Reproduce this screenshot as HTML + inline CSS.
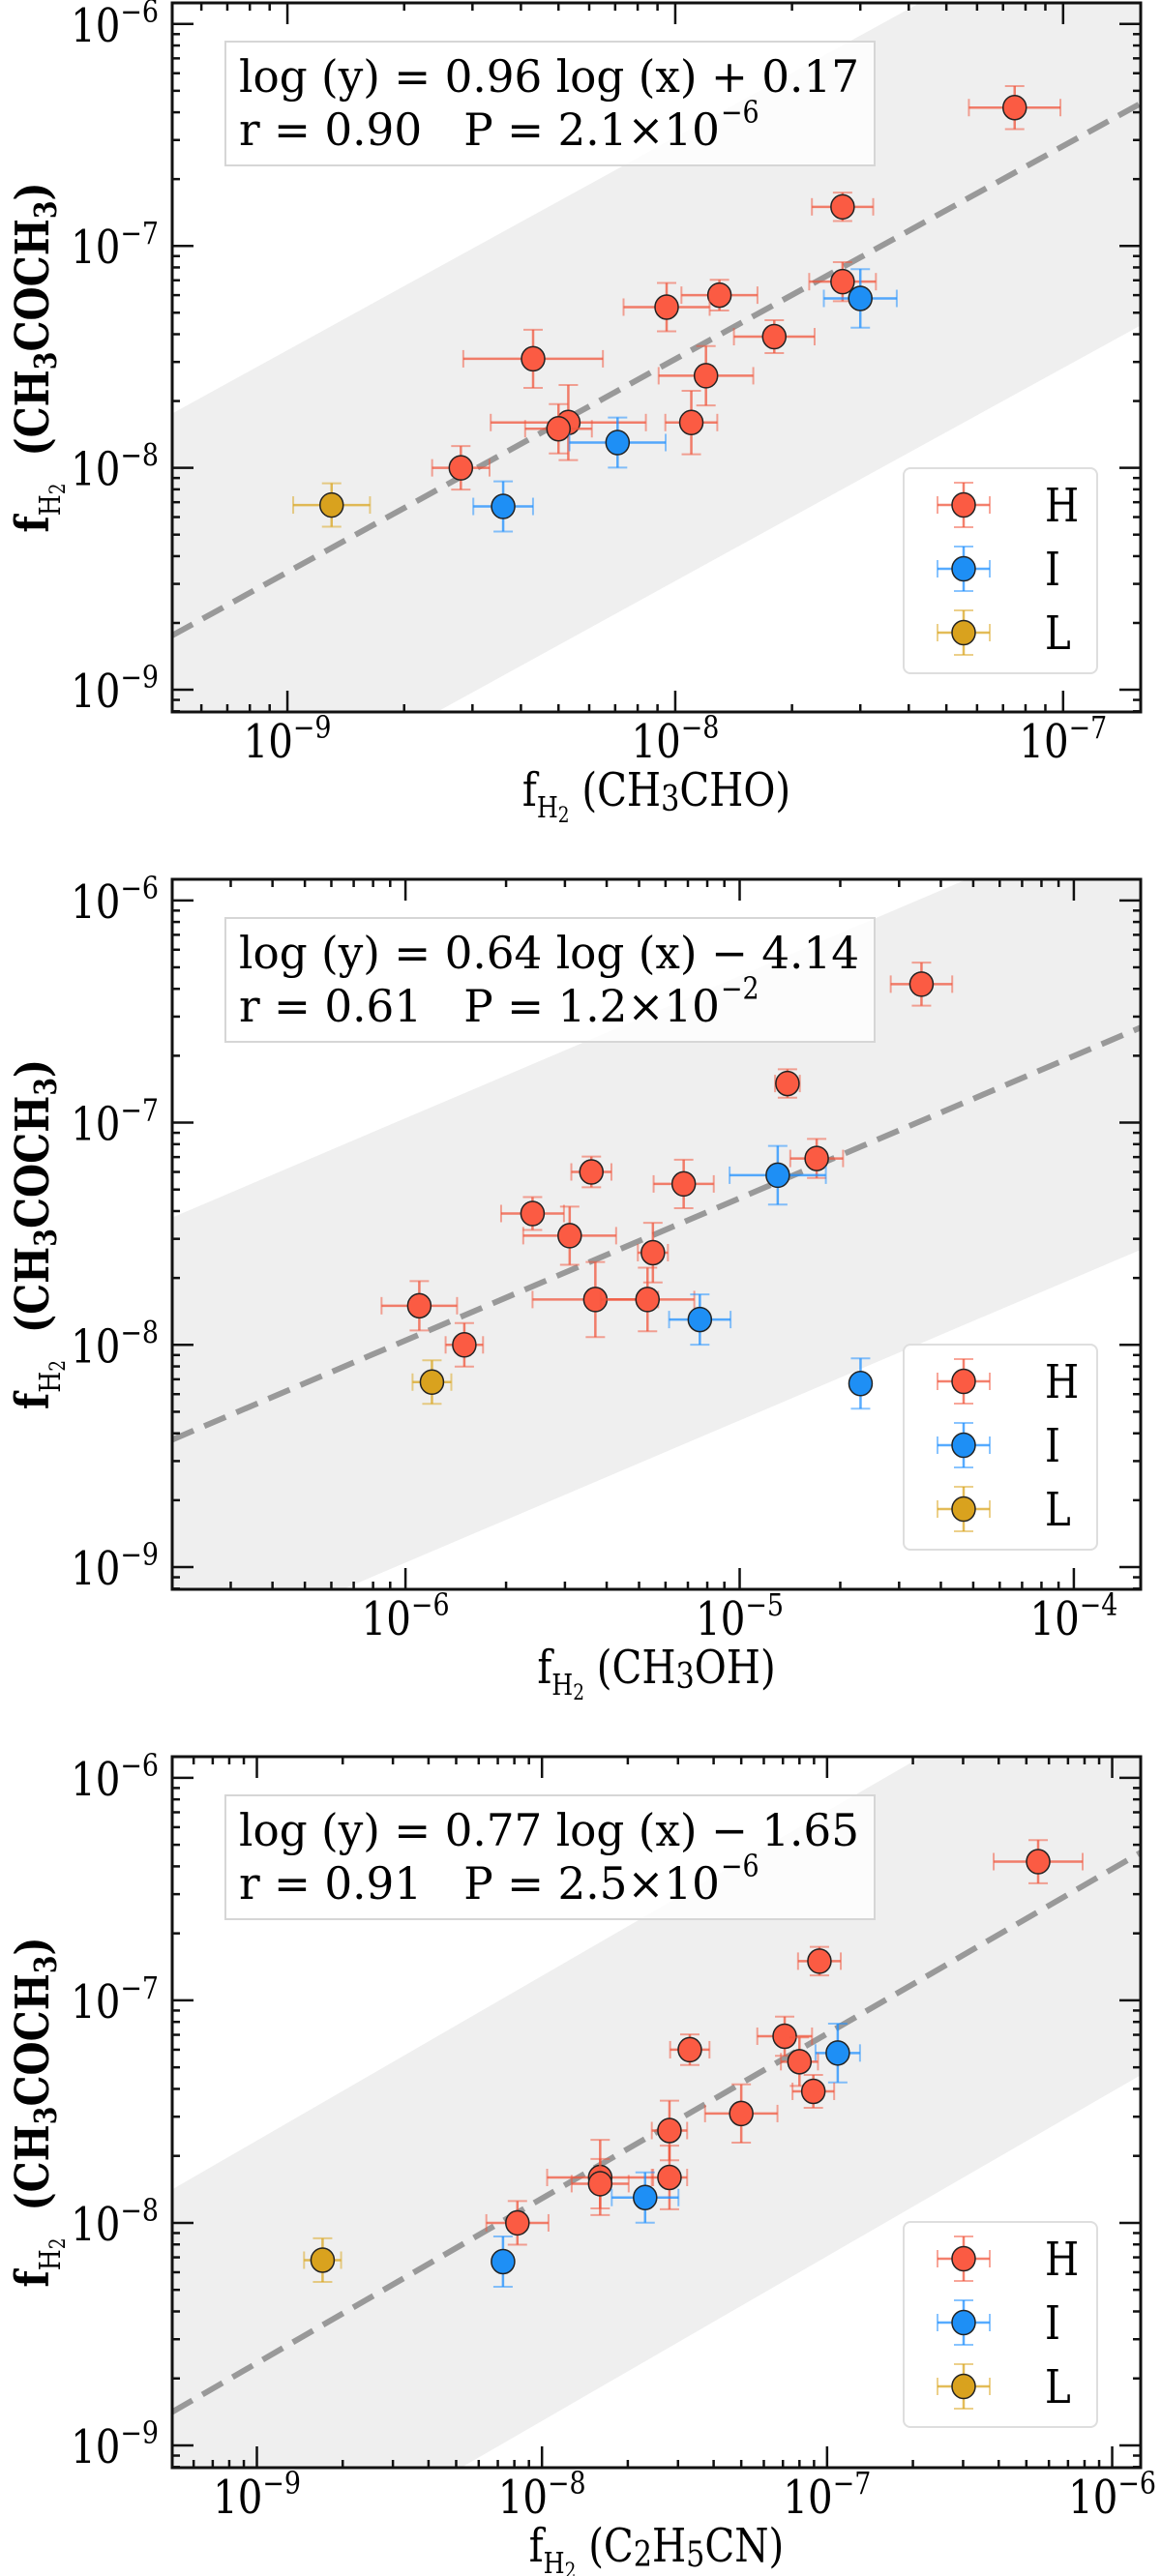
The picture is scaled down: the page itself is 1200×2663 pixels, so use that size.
<!DOCTYPE html>
<html><head><meta charset="utf-8"><style>
html,body{margin:0;padding:0;background:#fff;}
svg{display:block;}
text{font-family:"DejaVu Serif","Liberation Serif",serif;fill:#000;white-space:pre;}
</style></head><body>
<svg id="fig" width="1200" height="2663" viewBox="0 0 1200 2663" xmlns="http://www.w3.org/2000/svg" xml:space="preserve">
<defs>
<clipPath id="clip0"><rect x="178" y="3" width="1001" height="733"/></clipPath>
<clipPath id="clip1"><rect x="178" y="909" width="1001" height="734"/></clipPath>
<clipPath id="clip2"><rect x="178" y="1816" width="1001" height="735"/></clipPath>
</defs>
</svg>
<script>
// ---- data (shared y: CH3COCH3 abundance) ----
const acetone = [4.2e-7,1.5e-7,6.9e-8,5.8e-8,6.0e-8,5.3e-8,3.9e-8,3.1e-8,2.6e-8,1.6e-8,1.6e-8,1.5e-8,1.3e-8,1.0e-8,6.8e-9,6.7e-9];
const acetoneErrDex = [0.097,0.064,0.088,0.132,0.069,0.109,0.074,0.131,0.134,0.169,0.143,0.111,0.113,0.098,0.098,0.113];
const groups = ["H","H","H","I","H","H","H","H","H","H","H","H","I","H","L","I"];
const xCH3CHO = [7.5e-8,2.7e-8,2.7e-8,3.0e-8,1.3e-8,9.5e-9,1.8e-8,4.3e-9,1.2e-8,5.3e-9,1.1e-8,5.0e-9,7.1e-9,2.8e-9,1.3e-9,3.6e-9];
const xErrCH3CHO = [0.118,0.079,0.086,0.094,0.098,0.111,0.104,0.180,0.122,0.20,0.067,0.086,0.124,0.074,0.099,0.077];
const xCH3OH = [3.5e-5,1.39e-5,1.7e-5,1.3e-5,3.6e-6,6.8e-6,2.4e-6,3.1e-6,5.5e-6,3.7e-6,5.3e-6,1.1e-6,7.6e-6,1.5e-6,1.2e-6,2.3e-5];
const xErrCH3OH = [0.092,0.037,0.079,0.144,0.060,0.090,0.094,0.139,0.045,0.188,0.14,0.113,0.092,0.056,0.058,0.02];
const xC2H5CN = [5.5e-7,9.4e-8,7.1e-8,1.09e-7,3.3e-8,8.0e-8,8.95e-8,5.0e-8,2.8e-8,1.6e-8,2.8e-8,1.6e-8,2.3e-8,8.2e-9,1.7e-9,7.3e-9];
const xErrC2H5CN = [0.156,0.075,0.096,0.078,0.069,0.065,0.073,0.127,0.062,0.186,0.062,0.1,0.117,0.109,0.065,0.02];
const fitSlopes = [0.96,0.64,0.74];
const fitIntercepts = [0.17,-4.14,-1.97];
const fitTexts = ["log (y) = 0.96 log (x) + 0.17","log (y) = 0.64 log (x) \u2212 4.14","log (y) = 0.77 log (x) \u2212 1.65"];
const statTexts = ["r = 0.90   P = 2.1\u00d710","r = 0.61   P = 1.2\u00d710","r = 0.91   P = 2.5\u00d710"];
const statExps = ["\u22126","\u22122","\u22126"];
const legendLabels = ["H","I","L"];

const NS="http://www.w3.org/2000/svg";
const svg=document.getElementById('fig');
const COL={H:{f:"#fb5b43",e:"rgba(240,85,60,0.75)"},I:{f:"#1e8ff5",e:"rgba(30,143,255,0.75)"},L:{f:"#d9a21e",e:"rgba(218,165,32,0.75)"}};
function mk(tag,attrs,parent){const e=document.createElementNS(NS,tag);for(const k in attrs)e.setAttribute(k,attrs[k]);(parent||svg).appendChild(e);return e;}

const panelDefs=[
 {top:3,h:733,xmin:-9.297,xmax:-6.80,xs:xCH3CHO,xe:xErrCH3CHO,xlab:[" (CH","3","CHO)"]},
 {top:909,h:734,xmin:-6.698,xmax:-3.80,xs:xCH3OH,xe:xErrCH3OH,xlab:[" (CH","3","OH)"]},
 {top:1816,h:735,xmin:-9.297,xmax:-5.90,xs:xC2H5CN,xe:xErrC2H5CN,xlab:[" (C","2","H","5","CN)"]}
];
const L=178,R=1179,YMIN=-9.10,YMAX=-5.905;

function tickLabel(g,x,y,exp,anchor){
  const t=mk('text',{'font-size':48,transform:`translate(${x},${y}) scale(0.84,1)`,'text-anchor':anchor},g);
  
  
  t.appendChild(document.createTextNode('10'));
  const s=mk('tspan',{'font-size':32,dy:-20},t);s.textContent='\u2212'+Math.abs(exp);
}

panelDefs.forEach((p,pi)=>{
  const T=p.top,B=p.top+p.h;
  const X=v=>L+(Math.log10(v)-p.xmin)/(p.xmax-p.xmin)*(R-L);
  const XL=lv=>L+(lv-p.xmin)/(p.xmax-p.xmin)*(R-L);
  const YL=lv=>B-(lv-YMIN)/(YMAX-YMIN)*(B-T);
  const Y=v=>YL(Math.log10(v));
  const g=mk('g',{});
  
  
  const cg=mk('g',{'clip-path':`url(#clip${pi})`},g);
  const a=fitSlopes[pi],b=fitIntercepts[pi];
  const band=mk('polygon',{points:`${XL(p.xmin)},${YL(a*p.xmin+b+1)} ${XL(p.xmax)},${YL(a*p.xmax+b+1)} ${XL(p.xmax)},${YL(a*p.xmax+b-1)} ${XL(p.xmin)},${YL(a*p.xmin+b-1)}`,fill:"#efefef"},cg);
  
  
  const ln=mk('line',{x1:XL(p.xmin),y1:YL(a*p.xmin+b),x2:XL(p.xmax),y2:YL(a*p.xmax+b),stroke:"#999",'stroke-width':6,'stroke-dasharray':"24,12"},cg);
  
  
  acetone.forEach((yv,i)=>{
    const c=COL[groups[i]];const cx=X(p.xs[i]),cy=Y(yv);
    const x1=XL(Math.log10(p.xs[i])-p.xe[i]),x2=XL(Math.log10(p.xs[i])+p.xe[i]);
    const y1=YL(Math.log10(yv)+acetoneErrDex[i]),y2=YL(Math.log10(yv)-acetoneErrDex[i]);
    const pg=mk('g',{},cg);
    
    
    mk('line',{x1:x1,y1:cy,x2:x2,y2:cy,stroke:c.e,'stroke-width':2.5},pg);
    mk('line',{x1:cx,y1:y1,x2:cx,y2:y2,stroke:c.e,'stroke-width':2.5},pg);
    [[x1,cy-9,x1,cy+9],[x2,cy-9,x2,cy+9],[cx-10,y1,cx+10,y1],[cx-10,y2,cx+10,y2]].forEach(q=>mk('line',{x1:q[0],y1:q[1],x2:q[2],y2:q[3],stroke:c.e,'stroke-width':2,opacity:0.7},pg));
    mk('ellipse',{cx:cx,cy:cy,rx:12,ry:12.5,fill:c.f,stroke:"#222",'stroke-width':1.5},pg);
  });
  const bx=mk('g',{},g);
  
  
  mk('rect',{x:233,y:T+40,width:671,height:128,fill:"rgba(255,255,255,0.8)",stroke:"#d6d6d6",'stroke-width':2},bx);
  const t1=mk('text',{x:247,y:T+92,'font-size':46,textLength:641,lengthAdjust:"spacingAndGlyphs"},bx);t1.textContent=fitTexts[pi];
  const t2=mk('text',{x:247,y:T+147,'font-size':46,textLength:497,lengthAdjust:"spacingAndGlyphs"},bx);t2.textContent=statTexts[pi];
  const t3=mk('text',{'font-size':32,transform:`translate(745,${T+124}) scale(0.84,1)`},bx);t3.textContent=statExps[pi];
  const lg=mk('g',{},g);
  
  
  mk('rect',{x:L+756,y:T+481,width:200,height:212,rx:7,fill:"rgba(255,255,255,0.85)",stroke:"#dedede",'stroke-width':2},lg);
  legendLabels.forEach((lab,k)=>{
    const c=COL[lab];const ry=T+519+k*66,mx=L+818;
    const eg=mk('g',{},lg);
    
    
    mk('line',{x1:mx-27,y1:ry,x2:mx+27,y2:ry,stroke:c.e,'stroke-width':2.5},eg);
    mk('line',{x1:mx,y1:ry-23,x2:mx,y2:ry+23,stroke:c.e,'stroke-width':2.5},eg);
    [[mx-27,ry-9,mx-27,ry+9],[mx+27,ry-9,mx+27,ry+9],[mx-10,ry-23,mx+10,ry-23],[mx-10,ry+23,mx+10,ry+23]].forEach(q=>mk('line',{x1:q[0],y1:q[1],x2:q[2],y2:q[3],stroke:c.e,'stroke-width':2,opacity:0.7},eg));
    mk('ellipse',{cx:mx,cy:ry,rx:12,ry:12.5,fill:c.f,stroke:"#222",'stroke-width':1.5},eg);
    const tt=mk('text',{'font-size':48,transform:`translate(${L+902},${ry+17}) scale(0.84,1)`},eg);tt.textContent=lab;
  });
  const ax=mk('g',{},g);
  
  
  for(let e=Math.floor(p.xmin);e<=Math.ceil(p.xmax);e++){
    for(let m=1;m<10;m++){
      const lv=e+Math.log10(m);if(lv<p.xmin||lv>p.xmax)continue;
      const x=XL(lv),len=m===1?22:8;
      mk('line',{x1:x,y1:B,x2:x,y2:B-len,stroke:"#111",'stroke-width':2.5},ax);
      mk('line',{x1:x,y1:T,x2:x,y2:T+len,stroke:"#111",'stroke-width':2.5},ax);
      if(m===1) tickLabel(g,x,B+47,e,'middle');
    }
  }
  for(let e=-10;e<=-5;e++){
    for(let m=1;m<10;m++){
      const lv=e+Math.log10(m);if(lv<YMIN||lv>YMAX)continue;
      const y=YL(lv),len=m===1?22:8;
      mk('line',{x1:L,y1:y,x2:L+len,y2:y,stroke:"#111",'stroke-width':2.5},ax);
      mk('line',{x1:R,y1:y,x2:R-len,y2:y,stroke:"#111",'stroke-width':2.5},ax);
      if(m===1) tickLabel(g,164,y+18,e,'end');
    }
  }
  mk('rect',{x:L,y:T,width:R-L,height:B-T,fill:"none",stroke:"#111",'stroke-width':3},ax);
  // x label
  const xl=mk('text',{'font-size':48,transform:`translate(${(L+R)/2},${B+97}) scale(0.84,1)`,'text-anchor':'middle'},g);
  
  
  xl.appendChild(document.createTextNode('f'));
  const s1=mk('tspan',{'font-size':30,dy:12},xl);s1.textContent='H';
  const s2=mk('tspan',{'font-size':22,dy:5},xl);s2.textContent='2';
  let base=true;
  p.xlab.forEach((part,k)=>{
    const sp=mk('tspan',{'font-size':k%2===0?48:36,dy:k===0?-17:(k%2===1?5:-5)},xl);sp.textContent=part;
  });
  // y label
  const yl=mk('text',{'font-size':48,'font-weight':'bold',transform:`translate(50,${(T+B)/2}) rotate(-90) scale(0.84,1)`,'text-anchor':'middle'},g);
  
  
  yl.appendChild(document.createTextNode('f'));
  const y1=mk('tspan',{'font-size':30,'font-weight':'normal',dy:12},yl);y1.textContent='H';
  const y2=mk('tspan',{'font-size':22,'font-weight':'normal',dy:5},yl);y2.textContent='2';
  const y3=mk('tspan',{'font-size':48,dy:-17},yl);y3.textContent='  (CH';
  const y4=mk('tspan',{'font-size':32,dy:8},yl);y4.textContent='3';
  const y5=mk('tspan',{'font-size':48,dy:-8},yl);y5.textContent='COCH';
  const y6=mk('tspan',{'font-size':32,dy:8},yl);y6.textContent='3';
  const y7=mk('tspan',{'font-size':48,dy:-8},yl);y7.textContent=')';
});
</script>
</body></html>
